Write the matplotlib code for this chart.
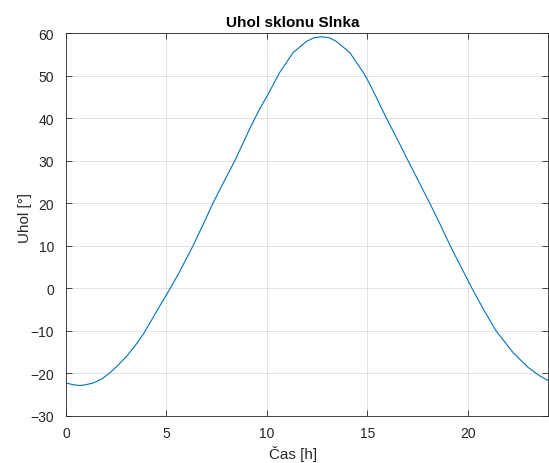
import matplotlib
matplotlib.use("Agg")
import matplotlib.pyplot as plt
import numpy as np

# cas [h] a uhol [deg], odcitane z grafu
cas = [0.0, 0.35, 0.70, 1.0, 1.36, 1.8, 2.19, 2.6, 3.02, 3.45, 3.85, 4.25, 4.68, 5.01,
       5.26, 5.67, 6.0, 6.33, 6.83, 7.33, 7.87, 8.41, 9.15, 9.65, 9.98, 10.65, 11.31,
       11.97, 12.35, 12.72, 13.1, 13.47, 14.13, 14.79, 15.07, 15.46, 15.95, 16.5, 17.03,
       17.57, 18.11, 18.65, 19.19, 19.6, 20.06, 20.21, 20.8, 21.41, 22.25, 23.0, 23.58, 24.0]
uhol = [-22.3, -22.7, -22.9, -22.7, -22.3, -21.3, -19.9, -18.1, -16.0, -13.5, -10.8, -7.6,
        -4.1, -1.5, 0.5, 4.0, 7.0, 10.0, 15.0, 20.1, 25.1, 30.0, 37.5, 42.2, 44.9, 50.8,
        55.4, 58.0, 58.9, 59.1, 58.9, 58.0, 55.4, 50.8, 48.5, 44.8, 40.0, 35.0, 30.0,
        25.0, 20.0, 14.8, 9.4, 5.6, 1.4, 0.0, -5.1, -10.0, -15.1, -18.6, -20.6, -21.7]

plt.rcParams['font.family'] = ['Liberation Sans', 'DejaVu Sans']
gray = '#262626'

fig = plt.figure(figsize=(5.49, 4.64), dpi=100)
ax = fig.add_axes([0.1202, 0.1019, 0.878, 0.8248])
ax.plot(cas, uhol, color='#0072BD', linewidth=0.8)

ax.set_xlim(0, 24)
ax.set_ylim(-30, 60)
ax.set_xticks([0, 5, 10, 15, 20])
ax.set_yticks(np.arange(-30, 61, 10))
ax.grid(True, color='#262626', alpha=0.15, linewidth=0.6)
ax.tick_params(direction='in', top=True, right=True, colors=gray, labelsize=10, length=4, width=0.6)
ax.tick_params(axis='x', pad=7.5)
ax.tick_params(axis='y', pad=8.5)
for s in ax.spines.values():
    s.set_color(gray)
    s.set_linewidth(0.6)

ax.set_title('Uhol sklonu Slnka', fontsize=11, fontweight='bold', color='black', x=0.471, pad=5)
ax.set_xlabel('Čas [h]', fontsize=11, color=gray)
ax.set_ylabel('Uhol [°]', fontsize=11, color=gray)
ax.xaxis.set_label_coords(0.471, -0.077)
ax.yaxis.set_label_coords(-0.0705, 0.519)

fig.savefig('out.png', dpi=100)
